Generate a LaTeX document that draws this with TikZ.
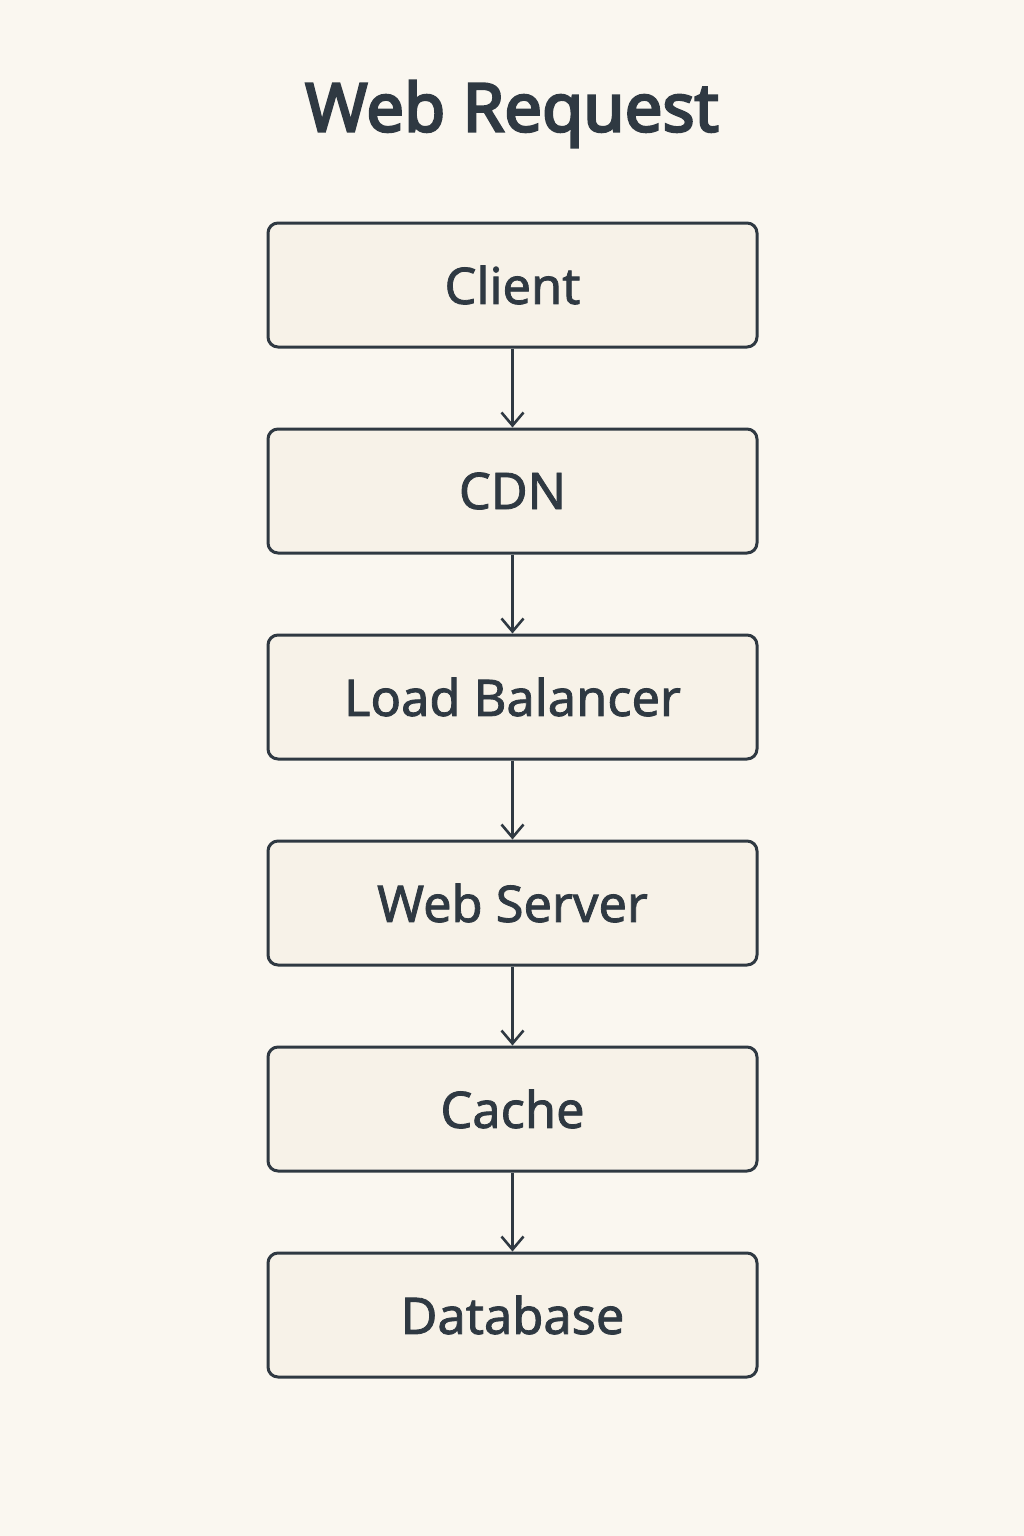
\documentclass[tikz,border=0pt]{standalone}
\usepackage{fontspec}
\setmainfont{Noto Sans}
\newfontfamily\titlefont{Noto Sans}[FakeBold=3.6]
\newfontfamily\medfont{Noto Sans}[FakeBold=1.6]
\usetikzlibrary{arrows.meta}
\definecolor{bgc}{HTML}{FAF7F0}
\definecolor{boxfill}{HTML}{F7F2E8}
\definecolor{ink}{HTML}{2F3942}
\tikzset{
  stagebox/.style={draw=ink, line width=3pt, fill=boxfill, rounded corners=10pt,
    minimum width=489pt, minimum height=124pt, inner sep=0pt,
    font=\medfont\fontsize{50.5}{55}\selectfont, text=ink},
  flowarrow/.style={draw=ink, line width=2.6pt, -{Straight Barb[length=13pt,width=22pt,line width=2.6pt]}},
}
\begin{document}
\begin{tikzpicture}[x=1pt,y=-1pt]
\fill[bgc] (0,0) rectangle (1024,1536);
\useasboundingbox (0,0) rectangle (1024,1536);
\node[font=\titlefont\fontsize{67}{72}\selectfont, text=ink] (title) at (512,114) {Web Request};
\node[stagebox] (client) at (512.5,285) {Client};
\node[stagebox] (cdn) at (512.5,491) {CDN};
\node[stagebox] (lb) at (512.5,697) {Load Balancer};
\node[stagebox] (ws) at (512.5,903) {Web Server};
\node[stagebox] (cache) at (512.5,1109) {Cache};
\node[stagebox] (db) at (512.5,1315) {Database};
\draw[flowarrow] (client.south) -- (cdn.north);
\draw[flowarrow] (cdn.south) -- (lb.north);
\draw[flowarrow] (lb.south) -- (ws.north);
\draw[flowarrow] (ws.south) -- (cache.north);
\draw[flowarrow] (cache.south) -- (db.north);
\end{tikzpicture}
\end{document}
